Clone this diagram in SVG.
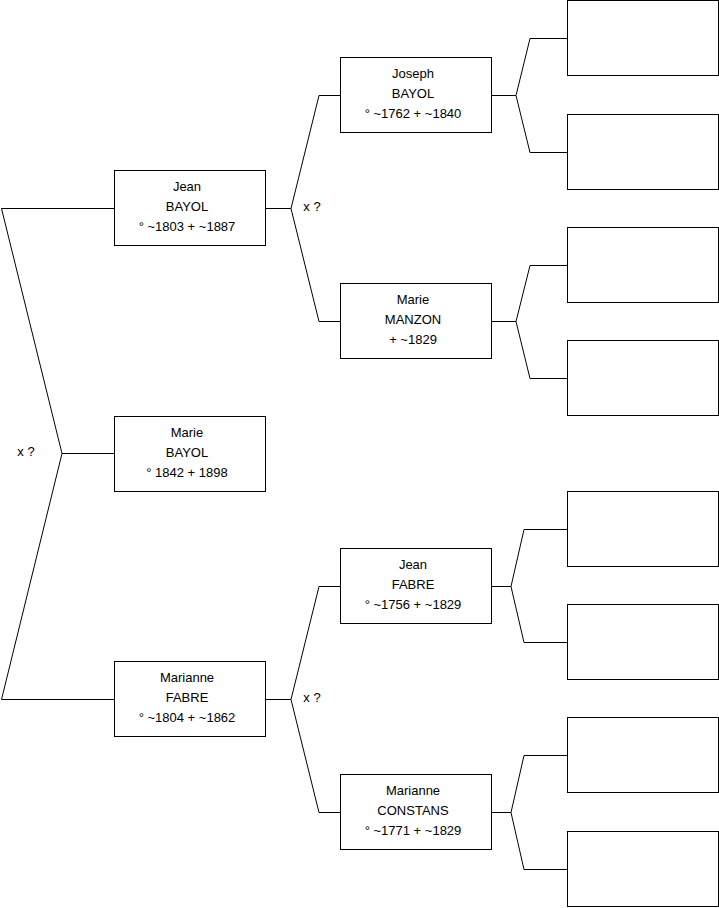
<svg xmlns="http://www.w3.org/2000/svg" width="719" height="908" viewBox="0 0 719 908">
<style>
rect{fill:#fff;stroke:#000;stroke-width:1}
path{fill:none;stroke:#000;stroke-width:1}
text{font-family:"Liberation Sans",Arial,sans-serif;font-size:13px;fill:#000;text-anchor:middle}
</style>
<rect x="0" y="0" width="719" height="908" style="stroke:none"/>
<g id="connectors">
<path d="M114,208.5 H1.5 L62,453.5 L1.5,699.5 H114 M62,453.5 H114"/>
<path d="M265,208.5 H291 L319,95.5 H340 M291,208.5 L319,321.5 H340"/>
<path d="M265,699.5 H291 L319,586.5 H340 M291,699.5 L319,812.5 H340"/>
<path d="M491,95.5 H516 L530,38.5 H567 M516,95.5 L530,152.5 H567"/>
<path d="M491,321.5 H516 L530,265.5 H567 M516,321.5 L530,378.5 H567"/>
<path d="M491,586.5 H511 L524,529.5 H567 M511,586.5 L524,642.5 H567"/>
<path d="M491,812.5 H511 L524,755.5 H567 M511,812.5 L524,869.5 H567"/>
<text x="26" y="456">x ?</text>
<text x="312" y="211">x ?</text>
<text x="312" y="702">x ?</text>
</g>
<g id="jean-bayol"><rect x="114.5" y="170.5" width="151" height="75"/><text x="187" y="191">Jean</text><text x="187" y="211">BAYOL</text><text x="187" y="231">° ~1803 + ~1887</text></g>
<g id="marie-bayol"><rect x="114.5" y="416.5" width="151" height="75"/><text x="187" y="437">Marie</text><text x="187" y="457">BAYOL</text><text x="187" y="477">° 1842 + 1898</text></g>
<g id="marianne-fabre"><rect x="114.5" y="661.5" width="151" height="75"/><text x="187" y="682">Marianne</text><text x="187" y="702">FABRE</text><text x="187" y="722">° ~1804 + ~1862</text></g>
<g id="joseph-bayol"><rect x="340.5" y="57.5" width="151" height="75"/><text x="413" y="78">Joseph</text><text x="413" y="98">BAYOL</text><text x="413" y="118">° ~1762 + ~1840</text></g>
<g id="marie-manzon"><rect x="340.5" y="283.5" width="151" height="75"/><text x="413" y="304">Marie</text><text x="413" y="324">MANZON</text><text x="413" y="344">+ ~1829</text></g>
<g id="jean-fabre"><rect x="340.5" y="548.5" width="151" height="75"/><text x="413" y="569">Jean</text><text x="413" y="589">FABRE</text><text x="413" y="609">° ~1756 + ~1829</text></g>
<g id="marianne-constans"><rect x="340.5" y="774.5" width="151" height="75"/><text x="413" y="795">Marianne</text><text x="413" y="815">CONSTANS</text><text x="413" y="835">° ~1771 + ~1829</text></g>
<g id="g3-1"><rect x="567.5" y="0.5" width="151" height="75"/></g>
<g id="g3-2"><rect x="567.5" y="114.5" width="151" height="75"/></g>
<g id="g3-3"><rect x="567.5" y="227.5" width="151" height="75"/></g>
<g id="g3-4"><rect x="567.5" y="340.5" width="151" height="75"/></g>
<g id="g3-5"><rect x="567.5" y="491.5" width="151" height="75"/></g>
<g id="g3-6"><rect x="567.5" y="604.5" width="151" height="75"/></g>
<g id="g3-7"><rect x="567.5" y="717.5" width="151" height="75"/></g>
<g id="g3-8"><rect x="567.5" y="831.5" width="151" height="75"/></g>
</svg>
